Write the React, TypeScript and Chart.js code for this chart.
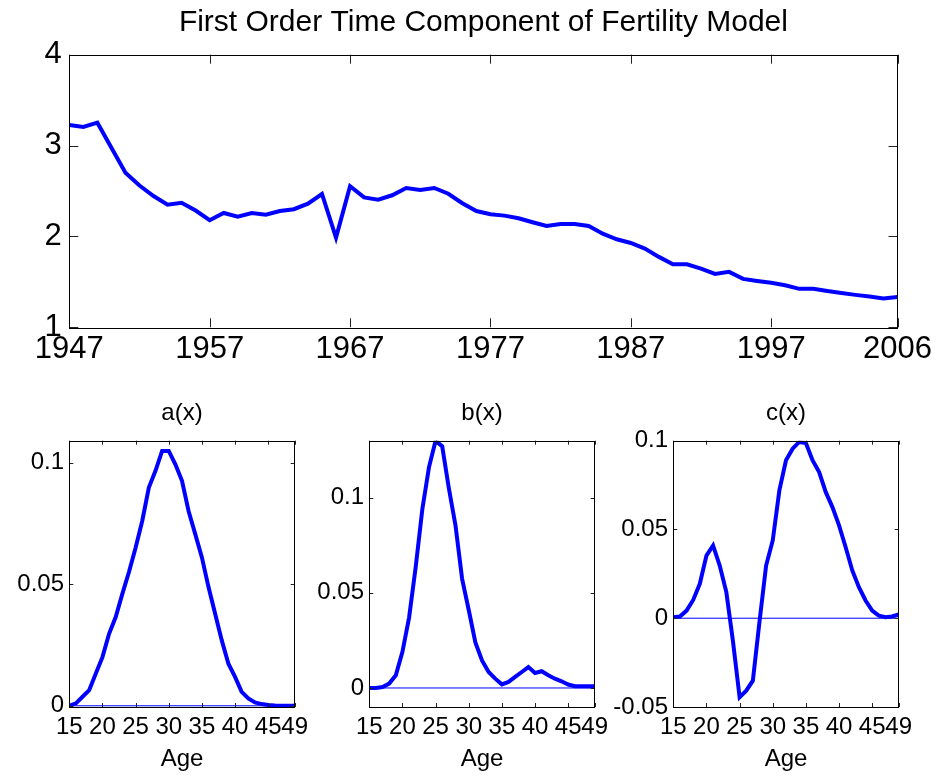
import React, { useEffect, useRef } from "react";
import { Chart, registerables } from "chart.js";

Chart.register(...registerables);

const FONT = "'Liberation Sans', Arial, Helvetica, sans-serif";
const BLUE = "#0000ff";

// ---------- Top panel data ----------
const years = [
  1947, 1948, 1949, 1950, 1951, 1952, 1953, 1954, 1955, 1956,
  1957, 1958, 1959, 1960, 1961, 1962, 1963, 1964, 1965, 1966,
  1967, 1968, 1969, 1970, 1971, 1972, 1973, 1974, 1975, 1976,
  1977, 1978, 1979, 1980, 1981, 1982, 1983, 1984, 1985, 1986,
  1987, 1988, 1989, 1990, 1991, 1992, 1993, 1994, 1995, 1996,
  1997, 1998, 1999, 2000, 2001, 2002, 2003, 2004, 2005, 2006,
];
const timeComponent = [
  3.227, 3.205, 3.252, 2.977, 2.7, 2.56, 2.445, 2.35, 2.37, 2.285,
  2.178, 2.258, 2.218, 2.258, 2.24, 2.28, 2.3, 2.36, 2.467, 1.987,
  2.552, 2.43, 2.405, 2.453, 2.533, 2.51, 2.533, 2.47, 2.365, 2.28,
  2.244, 2.229, 2.2, 2.156, 2.115, 2.137, 2.137, 2.115, 2.03, 1.969,
  1.928, 1.866, 1.775, 1.694, 1.694, 1.646, 1.588, 1.61, 1.533, 1.51,
  1.49, 1.463, 1.423, 1.423, 1.4, 1.378, 1.357, 1.338, 1.316, 1.334,
];
const yearTicks = [1947, 1957, 1967, 1977, 1987, 1997, 2006];
const timeTicks = [1, 2, 3, 4];
const topTitle = "First Order Time Component of Fertility Model";

// ---------- Bottom panels data ----------
const ages = [
  15, 16, 17, 18, 19, 20, 21, 22, 23, 24, 25, 26, 27, 28, 29, 30, 31, 32,
  33, 34, 35, 36, 37, 38, 39, 40, 41, 42, 43, 44, 45, 46, 47, 48, 49,
];
const ageTicks = [15, 20, 25, 30, 35, 40, 45, 49];
const aValues = [
  0, 0.001, 0.0037, 0.0064, 0.0133, 0.02, 0.0296, 0.0365, 0.046, 0.055,
  0.065, 0.076, 0.0897, 0.0966, 0.1048, 0.1048, 0.0993, 0.0925, 0.08, 0.0706,
  0.061, 0.0488, 0.0378, 0.0269, 0.0173, 0.0119, 0.0057, 0.003, 0.0014, 0.0007,
  0.0003, 0.0001, 0, 0, 0,
];
const bValues = [
  0, 0, 0.0005, 0.0023, 0.0067, 0.019, 0.037, 0.0636, 0.094, 0.116,
  0.13, 0.127, 0.105, 0.0855, 0.0574, 0.041, 0.024, 0.0145, 0.0084, 0.0049,
  0.0019, 0.0032, 0.0058, 0.0084, 0.011, 0.0079, 0.0088, 0.0067, 0.0049, 0.0035,
  0.0018, 0.0009, 0.0009, 0.0009, 0.0009,
];
const cValues = [
  0.0006, 0.001, 0.0043, 0.0103, 0.0194, 0.0353, 0.041, 0.0297, 0.0147, -0.013,
  -0.0445, -0.0408, -0.0352, -0.002, 0.0297, 0.0438, 0.072, 0.089, 0.0955, 0.0993,
  0.0987, 0.089, 0.0823, 0.071, 0.0626, 0.0523, 0.04, 0.0269, 0.0175, 0.01,
  0.0043, 0.0015, 0.0006, 0.001, 0.0021,
];
const aTicks = [0, 0.05, 0.1];
const bTicks = [0, 0.05, 0.1];
const cTicks = [-0.05, 0, 0.05, 0.1];
const aRange = [-0.0005, 0.109];
const bRange = [-0.01, 0.13];
const cRange = [-0.05, 0.1];
const zeroLine = [0, 0];
const zeroLineAges = [15, 49];

// Draws a MATLAB-style box with inward tick marks on all four sides
const boxPlugin = {
  id: "matlabBox",
  afterDraw(chart: any, _args: any, opts: any) {
    const len = (opts && opts.tickLen) || 5;
    const { ctx, chartArea } = chart;
    const { left, right, top, bottom } = chartArea;
    const xs = chart.scales.x;
    const ys = chart.scales.y;
    ctx.save();
    ctx.lineWidth = 1;
    ctx.strokeStyle = "#222";
    ctx.beginPath();
    for (const t of xs.ticks) {
      const px = Math.round(xs.getPixelForValue(t.value)) + 0.5;
      ctx.moveTo(px, bottom);
      ctx.lineTo(px, bottom - len);
      ctx.moveTo(px, top);
      ctx.lineTo(px, top + len);
    }
    for (const t of ys.ticks) {
      const py = Math.round(ys.getPixelForValue(t.value)) + 0.5;
      ctx.moveTo(left, py);
      ctx.lineTo(left + len, py);
      ctx.moveTo(right, py);
      ctx.lineTo(right - len, py);
    }
    ctx.stroke();
    ctx.strokeStyle = "#000";
    ctx.strokeRect(
      Math.round(left) + 0.5,
      Math.round(top) + 0.5,
      Math.round(right - left),
      Math.round(bottom - top)
    );
    ctx.restore();
  },
};

const noGrid = { display: false, drawTicks: false, tickLength: 0 };

function topConfig(): any {
  return {
    type: "line",
    data: {
      datasets: [
        {
          data: years.map((y, i) => ({ x: y, y: timeComponent[i] })),
          borderColor: BLUE,
          borderWidth: 4,
          pointRadius: 0,
          tension: 0,
        },
      ],
    },
    options: {
      animation: false,
      responsive: false,
      devicePixelRatio: 1,
      events: [],
      layout: { padding: { left: 0, right: 37.7, top: 0, bottom: 0 } },
      plugins: {
        legend: { display: false },
        tooltip: { enabled: false },
        title: {
          display: true,
          text: topTitle,
          color: "#000",
          fullSize: false,
          font: { family: FONT, size: 30, weight: "normal" },
          padding: { top: 4.5, bottom: 14.2 },
        },
        matlabBox: { tickLen: 9 },
      },
      scales: {
        x: {
          type: "linear",
          min: years[0],
          max: years[years.length - 1],
          grid: noGrid,
          border: { display: false },
          afterBuildTicks: (s: any) => {
            s.ticks = yearTicks.map((v) => ({ value: v }));
          },
          afterFit: (s: any) => {
            s.height = 52.7;
          },
          ticks: {
            autoSkip: false,
            maxRotation: 0,
            minRotation: 0,
            padding: 4,
            color: "#000",
            font: { family: FONT, size: 31 },
            callback: (v: any) => String(v),
          },
        },
        y: {
          type: "linear",
          min: timeTicks[0],
          max: timeTicks[timeTicks.length - 1],
          grid: noGrid,
          border: { display: false },
          afterBuildTicks: (s: any) => {
            s.ticks = timeTicks.map((v) => ({ value: v }));
          },
          afterFit: (s: any) => {
            s.width = 69.3;
          },
          ticks: {
            autoSkip: false,
            padding: 7.6,
            color: "#000",
            font: { family: FONT, size: 31 },
            callback: (v: any) => String(v),
          },
        },
      },
    },
    plugins: [boxPlugin],
  };
}

function panelConfig(
  title: string,
  values: number[],
  yTicks: number[],
  yRange: number[]
): any {
  return {
    type: "line",
    data: {
      datasets: [
        {
          data: ages.map((a, i) => ({ x: a, y: values[i] })),
          borderColor: BLUE,
          borderWidth: 4,
          pointRadius: 0,
          tension: 0,
          order: 0,
        },
        {
          data: zeroLineAges.map((a, i) => ({ x: a, y: zeroLine[i] })),
          borderColor: BLUE,
          borderWidth: 1,
          pointRadius: 0,
          tension: 0,
          order: 1,
        },
      ],
    },
    options: {
      animation: false,
      responsive: false,
      devicePixelRatio: 1,
      events: [],
      layout: { padding: { left: 0, right: 25.3, top: 0, bottom: 0 } },
      plugins: {
        legend: { display: false },
        tooltip: { enabled: false },
        title: {
          display: true,
          text: title,
          color: "#000",
          fullSize: false,
          font: { family: FONT, size: 24, weight: "normal" },
          padding: { top: 18.6, bottom: 13.3 },
        },
        matlabBox: { tickLen: 4 },
      },
      scales: {
        x: {
          type: "linear",
          min: ages[0],
          max: ages[ages.length - 1],
          grid: noGrid,
          border: { display: false },
          afterBuildTicks: (s: any) => {
            s.ticks = ageTicks.map((v) => ({ value: v }));
          },
          afterFit: (s: any) => {
            s.height = 69;
          },
          title: {
            display: true,
            text: "Age",
            color: "#000",
            font: { family: FONT, size: 24 },
            padding: { top: 0, bottom: 2.6 },
          },
          ticks: {
            autoSkip: false,
            maxRotation: 0,
            minRotation: 0,
            padding: 6.4,
            color: "#000",
            font: { family: FONT, size: 24 },
            callback: (v: any) => String(v),
          },
        },
        y: {
          type: "linear",
          min: yRange[0],
          max: yRange[1],
          grid: noGrid,
          border: { display: false },
          afterBuildTicks: (s: any) => {
            s.ticks = yTicks.map((v) => ({ value: v }));
          },
          afterFit: (s: any) => {
            s.width = 69.3;
          },
          ticks: {
            autoSkip: false,
            padding: 5.3,
            color: "#000",
            font: { family: FONT, size: 24 },
            callback: (v: any) => String(v),
          },
        },
      },
    },
    plugins: [boxPlugin],
  };
}

function ChartCanvas(props: {
  left: number;
  top: number;
  width: number;
  height: number;
  make: () => any;
}) {
  const ref = useRef<HTMLCanvasElement>(null);
  useEffect(() => {
    const chart = new Chart(ref.current as HTMLCanvasElement, props.make());
    return () => chart.destroy();
  }, []);
  return (
    <canvas
      ref={ref}
      width={props.width}
      height={props.height}
      style={{
        position: "absolute",
        left: props.left,
        top: props.top,
        width: props.width,
        height: props.height,
      }}
    />
  );
}

export default function App() {
  return (
    <div
      style={{
        position: "absolute",
        left: 0,
        top: 0,
        width: 936,
        height: 776,
        background: "#fff",
        overflow: "hidden",
      }}
    >
      <ChartCanvas left={0} top={0} width={936} height={380} make={topConfig} />
      <ChartCanvas
        left={0}
        top={380}
        width={320}
        height={396}
        make={() => panelConfig("a(x)", aValues, aTicks, aRange)}
      />
      <ChartCanvas
        left={300}
        top={380}
        width={320}
        height={396}
        make={() => panelConfig("b(x)", bValues, bTicks, bRange)}
      />
      <ChartCanvas
        left={604}
        top={380}
        width={320}
        height={396}
        make={() => panelConfig("c(x)", cValues, cTicks, cRange)}
      />
    </div>
  );
}
